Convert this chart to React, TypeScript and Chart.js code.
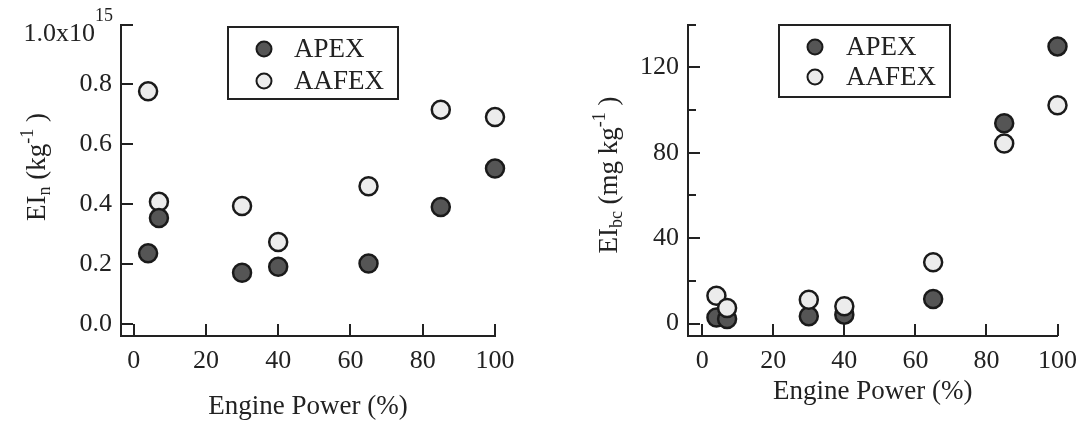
import React, { useEffect, useRef } from 'react';
import { Chart, registerables } from 'chart.js';

Chart.register(...registerables);

// ---------- data ----------
const enginePower = [4, 7, 30, 40, 65, 85, 100];
const apexEIn = [0.236, 0.354, 0.171, 0.191, 0.202, 0.391, 0.519];
const aafexEIn = [0.777, 0.408, 0.394, 0.274, 0.46, 0.716, 0.691];
const apexEIbc = [2.9, 2.2, 3.4, 4.2, 11.5, 93.8, 129.8];
const aafexEIbc = [13.0, 7.3, 11.2, 8.1, 28.7, 84.3, 102.2];

const seriesNames = ['APEX', 'AAFEX'];
const xTicks = [0, 20, 40, 60, 80, 100];
const leftYTicks = [0, 0.2, 0.4, 0.6, 0.8, 1.0];
const rightYTicks = [0, 40, 80, 120];
const rightYMinorTicks = [20, 60, 100, 140];
const xTitle = 'Engine Power (%)';

// ---------- style ----------
const FAMILY = "'Liberation Serif', 'Times New Roman', serif";
const INK = '#222222';
const DARK = '#555555';
const LIGHT = '#ececec';

type Part = { text: string; size: number; dy: number };

function drawRich(ctx: CanvasRenderingContext2D, parts: Part[], x: number, y: number) {
  let total = 0;
  const widths = parts.map((p) => {
    ctx.font = `${p.size}px ${FAMILY}`;
    const w = ctx.measureText(p.text).width;
    total += w;
    return w;
  });
  let cx = x - total / 2;
  parts.forEach((p, i) => {
    ctx.font = `${p.size}px ${FAMILY}`;
    ctx.fillText(p.text, cx, y + p.dy);
    cx += widths[i];
  });
}

const decorPlugin = {
  id: 'decor',
  afterDraw(chart: any, _args: any, opts: any) {
    const ctx: CanvasRenderingContext2D = chart.ctx;
    const { left, bottom } = chart.chartArea;
    const xs = chart.scales.x;
    const ys = chart.scales.y;
    ctx.save();
    // inward ticks
    ctx.strokeStyle = INK;
    ctx.lineWidth = 2;
    ctx.beginPath();
    xs.ticks.forEach((t: any) => {
      const px = Math.round(xs.getPixelForValue(t.value));
      ctx.moveTo(px, bottom);
      ctx.lineTo(px, bottom - opts.major);
    });
    ys.ticks.forEach((t: any) => {
      const py = Math.round(ys.getPixelForValue(t.value));
      ctx.moveTo(left, py);
      ctx.lineTo(left + opts.major, py);
    });
    (opts.yMinor || []).forEach((v: number) => {
      const py = Math.round(ys.getPixelForValue(v));
      ctx.moveTo(left, py);
      ctx.lineTo(left + opts.minor, py);
    });
    ctx.stroke();

    ctx.fillStyle = INK;
    // top label with superscript
    if (opts.topLabel) {
      const tl = opts.topLabel;
      ctx.font = `${tl.supSize}px ${FAMILY}`;
      const ws = ctx.measureText(tl.sup).width;
      ctx.textAlign = 'right';
      ctx.textBaseline = 'alphabetic';
      ctx.font = `${tl.size}px ${FAMILY}`;
      ctx.fillText(tl.main, tl.right - ws, tl.baseline);
      ctx.textAlign = 'left';
      ctx.font = `${tl.supSize}px ${FAMILY}`;
      ctx.fillText(tl.sup, tl.right - ws, tl.supBaseline);
    }

    // rotated y title with sub/superscripts
    if (opts.yTitle) {
      const yt = opts.yTitle;
      ctx.save();
      ctx.translate(yt.x, yt.y);
      ctx.rotate(-Math.PI / 2);
      ctx.textAlign = 'left';
      ctx.textBaseline = 'alphabetic';
      drawRich(ctx, yt.parts, 0, 0);
      ctx.restore();
    }

    // legend box
    if (opts.legend) {
      const lg = opts.legend;
      ctx.lineWidth = 2;
      ctx.strokeStyle = INK;
      ctx.strokeRect(lg.x, lg.y, lg.w, lg.h);
      const ds = chart.data.datasets;
      ds.forEach((d: any, i: number) => {
        const my = lg.rowY[i];
        ctx.beginPath();
        ctx.arc(lg.markerX, my, lg.r, 0, Math.PI * 2);
        ctx.fillStyle = d.backgroundColor;
        ctx.fill();
        ctx.lineWidth = 2;
        ctx.strokeStyle = d.borderColor;
        ctx.stroke();
        ctx.fillStyle = INK;
        ctx.font = `${lg.size}px ${FAMILY}`;
        ctx.textAlign = 'left';
        ctx.textBaseline = 'middle';
        ctx.fillText(d.label, lg.textX, my + 1);
      });
    }
    ctx.restore();
  },
};

function scatterDataset(label: string, ys: number[], fill: string, order: number) {
  return {
    label,
    data: enginePower.map((x, i) => ({ x, y: ys[i] })),
    backgroundColor: fill,
    borderColor: '#1a1a1a',
    borderWidth: 2.5,
    pointRadius: 9,
    pointHoverRadius: 9,
    clip: false as any,
    order,
  };
}

function makeConfig(c: any) {
  return {
    type: 'scatter' as const,
    data: { datasets: c.datasets },
    options: {
      animation: false,
      responsive: false,
      maintainAspectRatio: false,
      events: [],
      layout: { padding: { left: 0, top: c.padTop, right: c.padRight, bottom: 0 } },
      plugins: {
        legend: { display: false },
        tooltip: { enabled: false },
        decor: c.decor,
      },
      scales: {
        x: {
          type: 'linear',
          position: 'bottom',
          min: c.xMin,
          max: 100,
          afterBuildTicks: (s: any) => {
            s.ticks = xTicks.map((v) => ({ value: v }));
          },
          afterFit: (s: any) => {
            s.height = c.xHeight;
          },
          grid: { display: false, drawTicks: false },
          border: { display: true, color: INK, width: 2 },
          ticks: {
            color: INK,
            font: { family: FAMILY, size: 26 },
            padding: 10,
            autoSkip: false,
            maxRotation: 0,
            callback: (v: any) => String(v),
          },
          title: {
            display: true,
            text: xTitle,
            color: INK,
            font: { family: FAMILY, size: 27 },
            padding: { top: 0, bottom: c.xTitlePad },
          },
        },
        y: {
          type: 'linear',
          position: 'left',
          min: c.yMin,
          max: c.yMax,
          afterBuildTicks: (s: any) => {
            s.ticks = c.yTicks.map((v: number) => ({ value: v }));
          },
          afterFit: (s: any) => {
            s.width = c.yWidth;
          },
          grid: { display: false, drawTicks: false },
          border: { display: true, color: INK, width: 2 },
          ticks: {
            color: INK,
            font: { family: FAMILY, size: 26 },
            padding: 9,
            autoSkip: false,
            callback: c.yLabel,
          },
        },
      },
    },
    plugins: [decorPlugin],
  };
}

export default function App() {
  const leftRef = useRef<HTMLCanvasElement>(null);
  const rightRef = useRef<HTMLCanvasElement>(null);

  useEffect(() => {
    const left = new Chart(
      leftRef.current as HTMLCanvasElement,
      makeConfig({
        datasets: [
          scatterDataset(seriesNames[0], apexEIn, DARK, 0),
          scatterDataset(seriesNames[1], aafexEIn, LIGHT, 1),
        ],
        padTop: 24,
        padRight: 48,
        xHeight: 89,
        yWidth: 121,
        xMin: -3.5,
        yMin: -0.04,
        yMax: 1.0,
        yTicks: leftYTicks,
        xTitlePad: 2,
        yLabel: (v: any) => (v >= 1 ? '' : Number(v).toFixed(1)),
        decor: {
          major: 12,
          minor: 8,
          yMinor: [],
          topLabel: { main: '1.0x10', sup: '15', size: 26, supSize: 18, right: 113, baseline: 41, supBaseline: 21 },
          yTitle: {
            x: 45,
            y: 167,
            parts: [
              { text: 'EI', size: 27, dy: 0 },
              { text: 'n', size: 18, dy: 5 },
              { text: ' (kg', size: 27, dy: 0 },
              { text: '-1', size: 18, dy: -12 },
              { text: ' )', size: 27, dy: 0 },
            ],
          },
          legend: { x: 228, y: 27, w: 170, h: 72, markerX: 264, rowY: [49, 81], r: 7.5, textX: 294, size: 27 },
        },
      }) as any
    );

    const right = new Chart(
      rightRef.current as HTMLCanvasElement,
      makeConfig({
        datasets: [
          scatterDataset(seriesNames[0], apexEIbc, DARK, 1),
          scatterDataset(seriesNames[1], aafexEIbc, LIGHT, 0),
        ],
        padTop: 24,
        padRight: 23,
        xHeight: 89,
        yWidth: 145,
        xMin: -4,
        yMin: -5.8,
        yMax: 140,
        yTicks: rightYTicks,
        xTitlePad: 17,
        yLabel: (v: any) => String(v),
        decor: {
          major: 12,
          minor: 8,
          yMinor: rightYMinorTicks,
          topLabel: null,
          yTitle: {
            x: 74,
            y: 175,
            parts: [
              { text: 'EI', size: 27, dy: 0 },
              { text: 'bc', size: 18, dy: 5 },
              { text: ' (mg kg', size: 27, dy: 0 },
              { text: '-1', size: 18, dy: -12 },
              { text: ' )', size: 27, dy: 0 },
            ],
          },
          legend: { x: 236, y: 25, w: 171, h: 72, markerX: 272, rowY: [47, 77], r: 7.5, textX: 303, size: 27 },
        },
      }) as any
    );

    return () => {
      left.destroy();
      right.destroy();
    };
  }, []);

  return (
    <div style={{ position: 'absolute', left: 0, top: 0, width: 1087, height: 425, background: '#ffffff' }}>
      <canvas
        ref={leftRef}
        width={543}
        height={425}
        style={{ position: 'absolute', left: 0, top: 0, width: 543, height: 425 }}
      />
      <canvas
        ref={rightRef}
        width={544}
        height={425}
        style={{ position: 'absolute', left: 543, top: 0, width: 544, height: 425 }}
      />
    </div>
  );
}
